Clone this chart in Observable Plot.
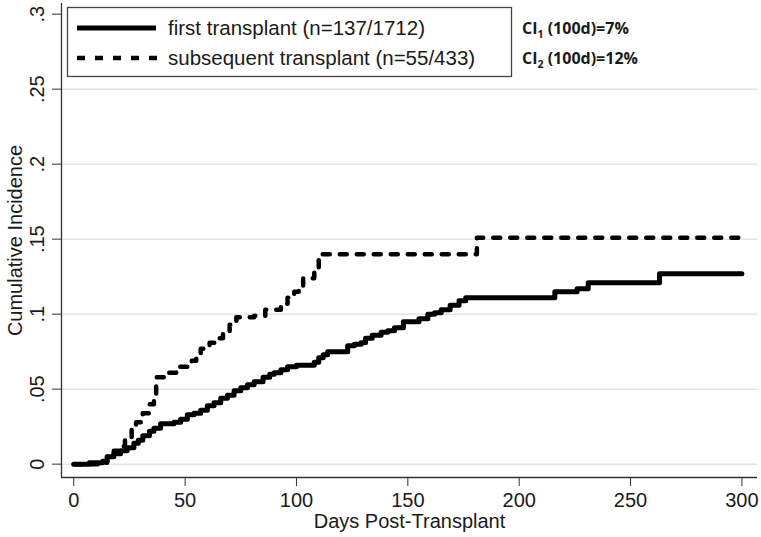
<!DOCTYPE html>
<html><head><meta charset="utf-8">
<script src="https://cdn.jsdelivr.net/npm/d3@7"></script>
<script src="https://cdn.jsdelivr.net/npm/@observablehq/plot@0.6"></script>
<style>body{margin:0;background:#fff}#chart{width:761px;height:537px}</style>
</head><body><div id="chart"></div>
<script>
// first transplant: day, cumulative incidence
const firstDays = [0, 7, 13, 15, 18, 21, 24, 27, 29, 31, 34, 36, 39, 45, 48, 51, 54, 57, 60, 63, 66, 69, 72, 75, 78, 81, 85, 88, 90, 93, 96, 100, 108, 110, 112, 114, 123, 126, 129, 131, 134, 138, 141, 144, 148, 155, 159, 162, 165, 169, 173, 176, 216, 226, 231, 263, 300];
const firstCI   = [0, 0.001, 0.002, 0.005, 0.007, 0.009, 0.011, 0.014, 0.016, 0.019, 0.022, 0.024, 0.027, 0.028, 0.030, 0.033, 0.034, 0.036, 0.039, 0.041, 0.044, 0.046, 0.049, 0.051, 0.053, 0.055, 0.058, 0.060, 0.061, 0.063, 0.065, 0.066, 0.068, 0.071, 0.073, 0.075, 0.079, 0.080, 0.081, 0.084, 0.086, 0.088, 0.089, 0.091, 0.095, 0.097, 0.100, 0.101, 0.103, 0.106, 0.109, 0.111, 0.115, 0.117, 0.121, 0.127, 0.127];
// subsequent transplant
const subsDays = [0, 13, 15, 18, 20, 23, 26, 28, 31, 34, 36, 37, 42, 46, 53, 55, 57, 61, 64, 67, 70, 73, 81, 86, 93, 96, 99, 101, 103, 108, 110, 111, 181, 300];
const subsCI   = [0, 0.001, 0.005, 0.009, 0.012, 0.018, 0.024, 0.028, 0.034, 0.040, 0.047, 0.058, 0.061, 0.065, 0.069, 0.074, 0.077, 0.081, 0.084, 0.088, 0.093, 0.098, 0.099, 0.103, 0.107, 0.111, 0.115, 0.118, 0.124, 0.131, 0.136, 0.140, 0.151, 0.151];

const xTicks = [0, 50, 100, 150, 200, 250, 300];
const yTicks = [0, 0.05, 0.1, 0.15, 0.2, 0.25, 0.3];
const yTickLabels = ["0", ".05", ".1", ".15", ".2", ".25", ".3"];
const gridTicks = [0, 0.05, 0.1, 0.15, 0.2, 0.25];
const xTitle = "Days Post-Transplant";
const yTitle = "Cumulative Incidence";
const legendLabels = ["first transplant (n=137/1712)", "subsequent transplant (n=55/433)"];
const ciSubs = ["1", "2"];
const ciValues = ["7%", "12%"];

const firstRows = firstDays.map((d, i) => ({day: d, ci: firstCI[i]}));
const subsRows = subsDays.map((d, i) => ({day: d, ci: subsCI[i]}));

const xDomain = [-5.5, 307];
const yDomain = [-0.0089, 0.3071];
const font = "'Liberation Sans', Arial, Helvetica, sans-serif";
const fs = 20;

const plot = Plot.plot({
  width: 761, height: 537,
  marginLeft: 61, marginRight: 4, marginTop: 3, marginBottom: 60,
  x: {domain: xDomain},
  y: {domain: yDomain},
  style: {fontFamily: font, fontSize: fs + "px", color: "#1a1a1a", background: "#fff"},
  marks: [
    Plot.ruleY(gridTicks, {stroke: "#e4e4e4", strokeWidth: 1.5}),
    Plot.ruleX([xDomain[0]], {stroke: "#333", strokeWidth: 1.3}),
    Plot.ruleY([yDomain[0]], {stroke: "#333", strokeWidth: 1.3}),
    Plot.axisX({ticks: xTicks, tickSize: 9, tickPadding: 6, fontSize: fs, label: null, stroke: "#333"}),
    Plot.axisY({ticks: yTicks, tickSize: 9, tickFormat: () => "", label: null, stroke: "#333"}),
    Plot.text(yTicks, {y: d => d, text: (d, i) => yTickLabels[i], frameAnchor: "left", textAnchor: "middle", lineAnchor: "middle", dx: -24, rotate: -90, fontSize: fs, fill: "#1a1a1a"}),
    Plot.text([xTitle], {text: d => d, frameAnchor: "bottom", textAnchor: "middle", lineAnchor: "middle", dy: 44, fontSize: fs, fill: "#1a1a1a"}),
    Plot.text([yTitle], {text: d => d, frameAnchor: "left", textAnchor: "middle", lineAnchor: "middle", rotate: -90, dx: -46, fontSize: fs, fill: "#1a1a1a"}),
    Plot.line(firstRows, {x: "day", y: "ci", curve: "step-after", stroke: "#000", strokeWidth: 5}),
    Plot.line(subsRows, {x: "day", y: "ci", curve: "step-after", stroke: "#000", strokeWidth: 4.5, strokeDasharray: "7,10"})
  ]
});
document.getElementById("chart").appendChild(plot);

// legend box and annotations
const svg = d3.select(plot);
const g = svg.append("g").attr("text-anchor", "start");
g.append("rect").attr("x", 67.5).attr("y", 7.5).attr("width", 444).attr("height", 69)
  .attr("fill", "#fff").attr("stroke", "#444").attr("stroke-width", 1.3);
const rowsY = [28, 58];
g.append("line").attr("x1", 77).attr("x2", 156).attr("y1", rowsY[0]).attr("y2", rowsY[0])
  .attr("stroke", "#000").attr("stroke-width", 5);
g.append("line").attr("x1", 77).attr("x2", 157).attr("y1", rowsY[1]).attr("y2", rowsY[1])
  .attr("stroke", "#000").attr("stroke-width", 4.5).attr("stroke-dasharray", "8,10");
legendLabels.forEach((t, i) => {
  g.append("text").attr("x", 168).attr("y", rowsY[i]).attr("dy", "0.36em").attr("text-anchor", "start")
    .attr("font-family", font).attr("font-size", 20.5).attr("fill", "#1a1a1a").text(t);
});
ciSubs.forEach((s, i) => {
  const t = g.append("text").attr("x", 522).attr("y", rowsY[i] + 6).attr("text-anchor", "start")
    .attr("font-family", "'Open Sans', 'Liberation Sans', sans-serif").attr("font-weight", "bold")
    .attr("font-size", 16).attr("fill", "#1a1a1a");
  t.append("tspan").text("CI");
  t.append("tspan").attr("font-size", 10.5).attr("dy", 3.5).text(s);
  t.append("tspan").attr("dy", -3.5).text(" (100d)=" + ciValues[i]);
});
</script>
</body></html>
